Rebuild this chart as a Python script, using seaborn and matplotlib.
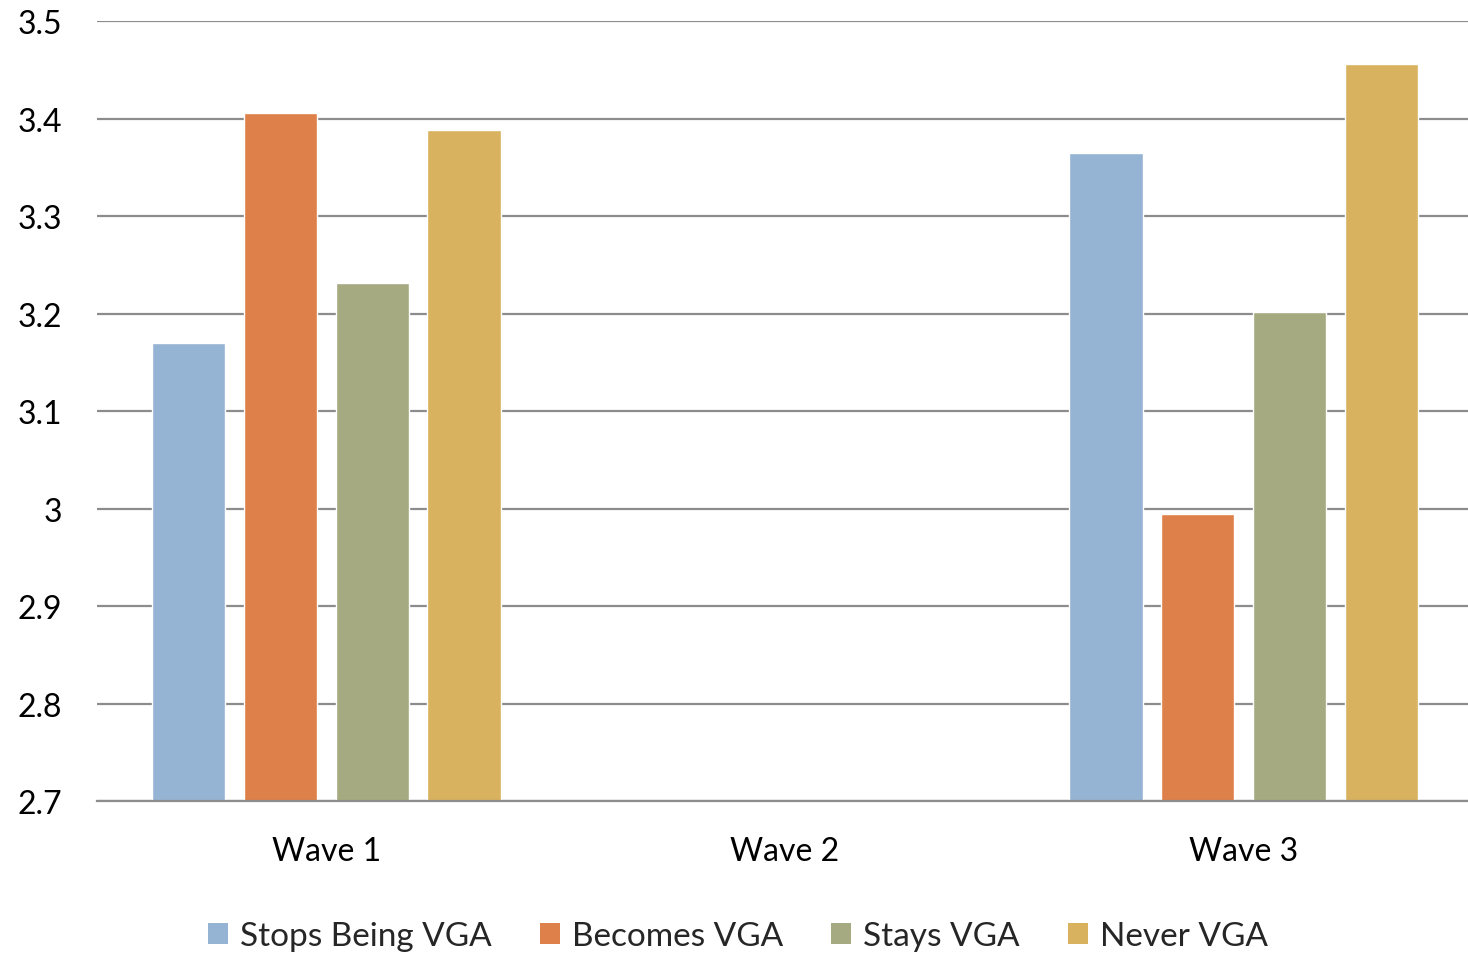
import numpy as np
import pandas as pd
import matplotlib
matplotlib.use("Agg")
import matplotlib.pyplot as plt
import seaborn as sns
from matplotlib.patches import Patch

waves = ["Wave 1", "Wave 2", "Wave 3"]
groups = ["Stops Being VGA", "Becomes VGA", "Stays VGA", "Never VGA"]
stops_being = [3.17, np.nan, 3.365]
becomes = [3.406, np.nan, 2.994]
stays = [3.231, np.nan, 3.202]
never = [3.388, np.nan, 3.456]
y_ticks = [2.7, 2.8, 2.9, 3.0, 3.1, 3.2, 3.3, 3.4, 3.5]
y_tick_labels = ["2.7", "2.8", "2.9", "3", "3.1", "3.2", "3.3", "3.4", "3.5"]

colors = ["#95B3D2", "#DE8049", "#A5AA80", "#D8B25E"]

rows = []
for g, vals in zip(groups, [stops_being, becomes, stays, never]):
    for w, v in zip(waves, vals):
        rows.append({"wave": w, "group": g, "score": v})
df = pd.DataFrame(rows)

sns.set_theme(style="white")
plt.rcParams["font.family"] = ["Lato", "DejaVu Sans"]

fig = plt.figure(figsize=(14.68, 9.54), dpi=100)
# plot area runs slightly past the right edge of the figure
ax = fig.add_axes([97 / 1468, 1 - 802 / 954, (1473 - 97) / 1468, (802 - 22) / 954])

sns.barplot(data=df.dropna(), x="wave", y="score", hue="group", order=waves,
            hue_order=groups, palette=colors, width=0.802, gap=0.2,
            saturation=1, ax=ax, legend=False, errorbar=None)

ax.set_ylim(2.7, 3.5)
ax.set_xlim(-0.5, 2.5)
ax.set_yticks(y_ticks)
ax.set_yticklabels(y_tick_labels)
ax.yaxis.grid(True, color="#8C8C8C", linewidth=1.6)
ax.set_axisbelow(True)
for side in ["top", "right", "left"]:
    ax.spines[side].set_visible(False)
ax.spines["bottom"].set_color("#8C8C8C")
ax.spines["bottom"].set_linewidth(1.6)
ax.tick_params(axis="both", length=0, labelsize=23, colors="black")
ax.tick_params(axis="y", pad=25)
ax.tick_params(axis="x", pad=25)
ax.set_xlabel("")
ax.set_ylabel("")

handles = [Patch(facecolor=c, edgecolor="none", label=g) for c, g in zip(colors, groups)]
fig.legend(handles=handles, loc="center", bbox_to_anchor=(738 / 1468, 1 - 937 / 954),
           ncol=4, frameon=False, fontsize=24, handlelength=0.6, handleheight=0.6,
           handletextpad=0.35, columnspacing=1.45)

fig.savefig("out.png", dpi=100, facecolor="white")
